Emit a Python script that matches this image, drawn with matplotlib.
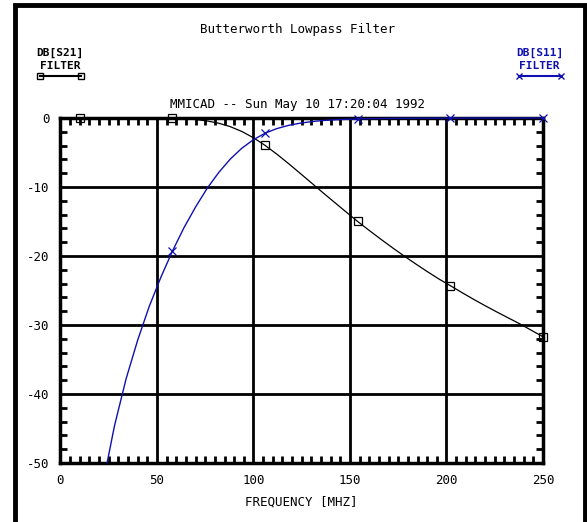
import matplotlib.pyplot as plt
from matplotlib.patches import Rectangle
from matplotlib.ticker import MultipleLocator

plt.rcParams['axes.unicode_minus'] = False

# frequency sweep [MHz]
freq = [10, 16, 22, 28, 34, 40, 46, 52, 58, 64, 70, 76, 82, 88, 94, 100,
        106, 112, 118, 124, 130, 136, 142, 148, 154, 160, 166, 172, 178,
        184, 190, 196, 202, 208, 214, 220, 226, 232, 238, 244, 250]
# DB[S21]
s21 = [0.0, 0.0, 0.0, 0.0, 0.0, 0.0, -0.01, -0.02, -0.05, -0.11, -0.23,
       -0.43, -0.76, -1.26, -1.96, -2.87, -3.97, -5.22, -6.57, -7.98,
       -9.40, -10.83, -12.23, -13.62, -15.0, -16.3, -17.57, -18.8, -19.99,
       -21.14, -22.25, -23.32, -24.3, -25.3, -26.27, -27.2, -28.1, -28.97,
       -29.83, -30.77, -31.7]
# DB[S11]
s11 = [-80.3, -64.0, -53.0, -44.6, -37.8, -32.2, -27.3, -23.1, -19.3,
       -15.9, -12.9, -10.2, -7.9, -5.95, -4.38, -3.14, -2.21, -1.55, -1.08,
       -0.76, -0.53, -0.37, -0.27, -0.19, -0.14, -0.1, -0.08, -0.06, -0.05,
       -0.04, -0.03, -0.02, -0.02, -0.01, -0.01, -0.01, -0.01, -0.01, 0.0,
       0.0, 0.0]
marker_freq = [10, 58, 106, 154, 202, 250]

blue = '#1010b0'
mono = 'DejaVu Sans Mono'

fig = plt.figure(figsize=(5.87, 5.22), dpi=100)
ax = fig.add_axes([0.103, 0.113, 0.822, 0.661])

marks = [freq.index(f) for f in marker_freq]
l1, = ax.plot(freq, s21, color='black', lw=0.9, marker='s', markevery=marks,
              ms=6, mfc='none', mec='black', mew=0.9, zorder=4)
l2, = ax.plot(freq, s11, color=blue, lw=1.0, marker='x', markevery=marks,
              ms=6, mec=blue, mew=0.9, zorder=5)
# let marks sit on the top edge, but keep the bottom clipped
for ln in (l1, l2):
    ln.set_clip_path(Rectangle((-0.02, 0), 1.04, 1.05, transform=ax.transAxes))

ax.set_xlim(0, 250)
ax.set_ylim(-50, 0)
ax.xaxis.set_major_locator(MultipleLocator(50))
ax.xaxis.set_minor_locator(MultipleLocator(5))
ax.yaxis.set_major_locator(MultipleLocator(10))
ax.yaxis.set_minor_locator(MultipleLocator(2))
ax.grid(True, which='major', color='black', lw=2)
ax.tick_params(which='both', direction='in', top=True, right=True,
               width=2, labelsize=9)
ax.tick_params(which='major', length=0, pad=8)
ax.tick_params(which='minor', length=5)
for s in ax.spines.values():
    s.set_linewidth(2.5)
for lab in ax.get_xticklabels() + ax.get_yticklabels():
    lab.set_family(mono)
ax.set_xlabel('FREQUENCY [MHZ]', family=mono, fontsize=9, labelpad=6)

fig.text(0.506, 0.944, 'Butterworth Lowpass Filter', family=mono,
         fontsize=9, ha='center', va='center')
fig.text(0.506, 0.799, 'MMICAD -- Sun May 10 17:20:04 1992', family=mono,
         fontsize=9, ha='center', va='center')

# legend blocks
fig.text(0.102, 0.899, 'DB[S21]', family=mono, fontsize=8, ha='center',
         va='center', weight='bold')
fig.text(0.102, 0.874, 'FILTER', family=mono, fontsize=8, ha='center',
         va='center', weight='bold')
fig.add_artist(plt.Line2D([0.068, 0.138], [0.854, 0.854], color='black',
                          lw=1.5, marker='s', ms=5, mfc='none', mew=1))
fig.text(0.919, 0.899, 'DB[S11]', family=mono, fontsize=8, ha='center',
         va='center', weight='bold', color=blue)
fig.text(0.919, 0.874, 'FILTER', family=mono, fontsize=8, ha='center',
         va='center', weight='bold', color=blue)
fig.add_artist(plt.Line2D([0.884, 0.956], [0.854, 0.854], color=blue,
                          lw=1.5, marker='x', ms=5, mew=1))

# outer frame
fig.add_artist(Rectangle((0.026, -0.05), 0.97, 1.04, transform=fig.transFigure,
                         fill=False, lw=3.5, ec='black'))

fig.savefig('out.png', dpi=100)
